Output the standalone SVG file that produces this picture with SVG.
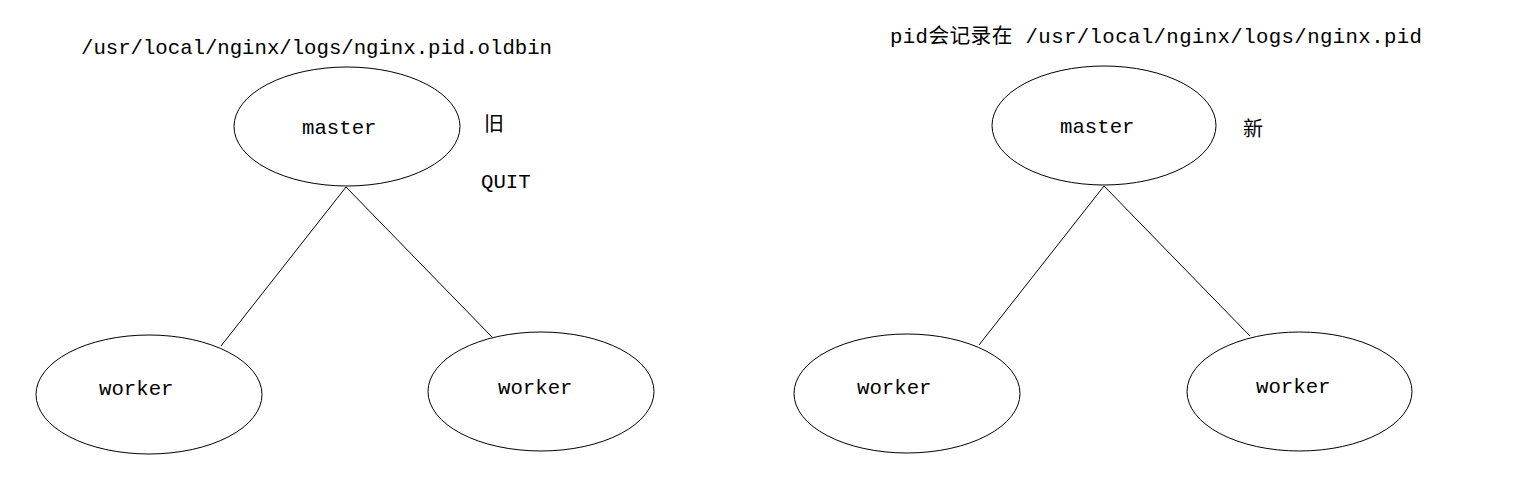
<svg xmlns="http://www.w3.org/2000/svg" width="1524" height="496" viewBox="0 0 1524 496">
<style>
.n{fill:#fff;stroke:#000;stroke-width:1}
.c line{stroke:#000;stroke-width:1}
text{font-family:"Liberation Mono","Noto Sans CJK SC",monospace;font-size:20.7px;fill:#000}
.cjk{font-family:"Noto Sans CJK SC",sans-serif;font-size:20px}
</style>
<rect width="1524" height="496" fill="#fff"/>
<g class="c" id="connectors">
<line x1="346" y1="187" x2="221" y2="346"/>
<line x1="346" y1="187" x2="492" y2="337"/>
<line x1="1104" y1="186" x2="979" y2="345"/>
<line x1="1104" y1="186" x2="1250" y2="336"/>
</g>
<g id="label-old-path"><text x="81" y="54" textLength="471" lengthAdjust="spacing">/usr/local/nginx/logs/nginx.pid.oldbin</text></g>
<g id="label-new-path"><text x="890" y="43" textLength="532" lengthAdjust="spacing">pid会记录在 /usr/local/nginx/logs/nginx.pid</text></g>
<g id="master-old"><ellipse class="n" cx="347" cy="126.5" rx="113" ry="59.5"/><text x="302" y="134">master</text></g>
<g id="label-jiu"><text class="cjk" x="484" y="131">旧</text></g>
<g id="label-quit"><text x="481" y="188">QUIT</text></g>
<g id="worker-old-1"><ellipse class="n" cx="149" cy="394.5" rx="113" ry="59.5"/><text x="99" y="395">worker</text></g>
<g id="worker-old-2"><ellipse class="n" cx="541" cy="391.5" rx="113" ry="59.5"/><text x="498" y="394">worker</text></g>
<g id="master-new"><ellipse class="n" cx="1104" cy="125.5" rx="112" ry="59.5"/><text x="1060" y="133">master</text></g>
<g id="label-xin"><text class="cjk" x="1243" y="136">新</text></g>
<g id="worker-new-1"><ellipse class="n" cx="907" cy="393.5" rx="113" ry="59.5"/><text x="857" y="394">worker</text></g>
<g id="worker-new-2"><ellipse class="n" cx="1299.5" cy="391.5" rx="112.5" ry="59.5"/><text x="1256" y="393">worker</text></g>
</svg>
